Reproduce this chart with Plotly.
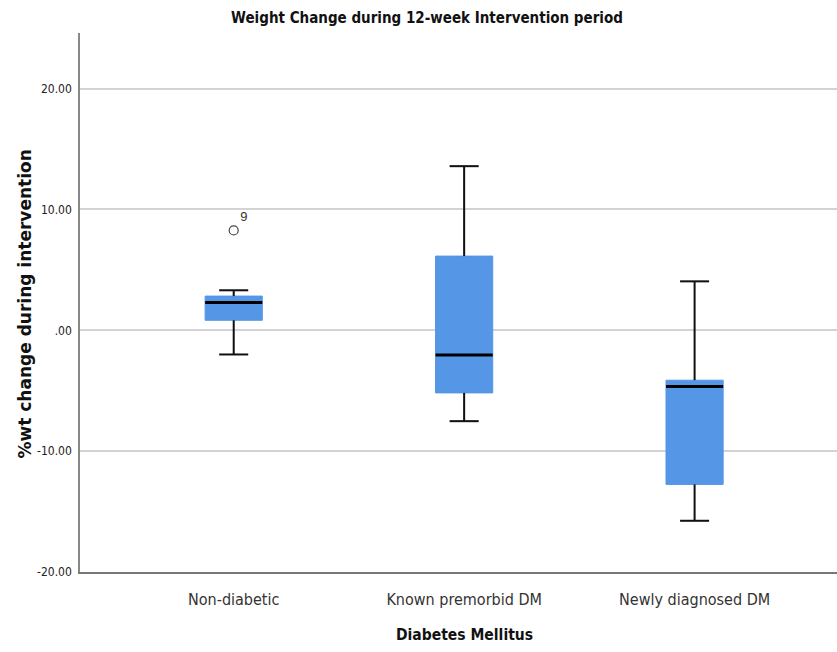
import plotly.graph_objects as go

# Summary statistics of % weight change per group
categories = ["Non-diabetic", "Known premorbid DM", "Newly diagnosed DM"]
lower_whisker = [-2.0, -7.52, -15.76]
q1 = [0.83, -5.18, -12.75]
median = [2.31, -2.04, -4.65]
q3 = [2.83, 6.14, -4.13]
upper_whisker = [3.31, 13.58, 4.05]

# Outlying case
outlier_group = [0]
outlier_value = [8.26]
outlier_label = ["9"]

y_ticks = [-20, -10, 0, 10, 20]
y_tick_labels = ["-20.00", "-10.00", ".00", "10.00", "20.00"]

BOX_BLUE = "#5596e6"
NARROW = "Liberation Sans Narrow, Arial Narrow, DejaVu Sans Condensed, sans-serif"
SANS = "Liberation Sans, Arial, sans-serif"
WIDE = "DejaVu Sans, Verdana, sans-serif"

box_half = 0.124
cap_half = 0.063
positions = list(range(len(categories)))

fig = go.Figure()

fig.add_trace(go.Box(
    x=positions,
    q1=q1, median=median, q3=q3,
    lowerfence=lower_whisker, upperfence=upper_whisker,
    width=2 * box_half,
    fillcolor=BOX_BLUE,
    line=dict(color=BOX_BLUE, width=1),
    whiskerwidth=0.5,
    boxpoints=False,
    hoverinfo="skip",
    showlegend=False,
))

# Whiskers and caps in black
wx, wy = [], []
for i, p in enumerate(positions):
    wx += [p, p, None, p - cap_half, p + cap_half, None]
    wy += [q3[i], upper_whisker[i], None, upper_whisker[i], upper_whisker[i], None]
    wx += [p, p, None, p - cap_half, p + cap_half, None]
    wy += [q1[i], lower_whisker[i], None, lower_whisker[i], lower_whisker[i], None]
fig.add_trace(go.Scatter(x=wx, y=wy, mode="lines",
                         line=dict(color="#111111", width=2),
                         hoverinfo="skip", showlegend=False))

# Median bars
mx, my = [], []
for i, p in enumerate(positions):
    mx += [p - box_half, p + box_half, None]
    my += [median[i], median[i], None]
fig.add_trace(go.Scatter(x=mx, y=my, mode="lines",
                         line=dict(color="#000000", width=3),
                         hoverinfo="skip", showlegend=False))

# Outlier with case label
fig.add_trace(go.Scatter(
    x=outlier_group, y=outlier_value, mode="markers+text",
    marker=dict(symbol="circle-open", size=9, color="#444444", line=dict(width=1.2)),
    text=outlier_label, textposition="top right",
    textfont=dict(family=SANS, size=13, color="#333333"),
    hoverinfo="skip", showlegend=False,
))

fig.update_layout(
    width=837, height=652,
    margin=dict(l=80, r=0, t=33, b=80),
    paper_bgcolor="white", plot_bgcolor="white",
    title=dict(
        text="<b>Weight Change during 12-week Intervention period</b>",
        font=dict(family=NARROW, size=15, color="#111111"),
        x=427 / 837, xanchor="center",
        y=1 - 18 / 652, yanchor="middle", yref="container",
    ),
    xaxis=dict(
        range=[-0.667, 2.618],
        tickvals=positions, ticktext=categories,
        tickfont=dict(family=NARROW, size=16, color="#333333"),
        ticks="", ticklabelstandoff=12,
        showgrid=False, zeroline=False,
        showline=True, linecolor="#777777", linewidth=2,
    ),
    yaxis=dict(
        range=[-20, 24.6],
        tickvals=y_ticks, ticktext=y_tick_labels,
        tickfont=dict(family=NARROW, size=12, color="#222222"),
        ticks="", ticklabelstandoff=4,
        showgrid=True, gridcolor="#d3d3d3", gridwidth=2,
        zeroline=False,
        showline=True, linecolor="#888888", linewidth=1.5,
    ),
    annotations=[
        dict(text="<b>Diabetes Mellitus</b>", xref="paper", yref="paper",
             x=(464 - 80) / 757, y=-(635 - 572) / 539, xanchor="center", yanchor="middle",
             showarrow=False, font=dict(family=NARROW, size=15.5, color="#111111")),
        dict(text="<b>%wt change during intervention</b>", xref="paper", yref="paper",
             x=(24 - 80) / 757, y=(572 - 304.5) / 539, xanchor="center", yanchor="middle",
             textangle=-90, showarrow=False,
             font=dict(family=WIDE, size=17, color="#111111")),
    ],
)

fig.write_html("out.html")
